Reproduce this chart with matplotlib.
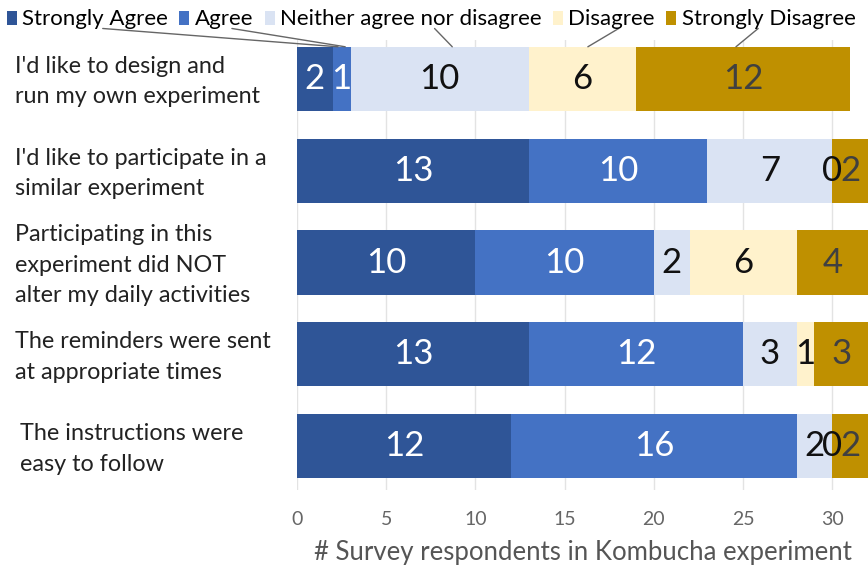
import numpy as np
import matplotlib
matplotlib.use('Agg')
import matplotlib.pyplot as plt
from matplotlib.transforms import blended_transform_factory

plt.rcParams['font.family'] = ['Lato', 'DejaVu Sans']

# Réponses au questionnaire (nombre de répondants par niveau d'accord)
questions = ["I'd like to design and\nrun my own experiment",
             "I'd like to participate in a\nsimilar experiment",
             "Participating in this\nexperiment did NOT\nalter my daily activities",
             "The reminders were sent\nat appropriate times",
             "The instructions were\neasy to follow"]
levels = ['Strongly Agree', 'Agree', 'Neither agree nor disagree', 'Disagree', 'Strongly Disagree']
strongly_agree = [2, 13, 10, 13, 12]
agree = [1, 10, 10, 12, 16]
neither = [10, 7, 2, 3, 2]
disagree = [6, 0, 6, 1, 0]
strongly_disagree = [12, 2, 4, 3, 2]

colors = ['#2F5597', '#4472C4', '#DAE3F3', '#FFF2CC', '#BF9000']
text_colors = ['white', 'white', '#111111', '#111111', '#404040']

fig = plt.figure(figsize=(8.68, 5.73), dpi=100)
ax = fig.add_axes([0.3422, 0.1449, 0.6578, 0.7853])

series = [strongly_agree, agree, neither, disagree, strongly_disagree]
y = np.arange(len(questions))
left = np.zeros(len(questions))
handles = []
for vals, col, tcol, lab in zip(series, colors, text_colors, levels):
    vals = np.array(vals)
    b = ax.barh(y, vals, left=left, height=0.70, color=col, label=lab, zorder=2)
    handles.append(b)
    # Valeurs au centre de chaque segment
    for yi, l, v in zip(y, left, vals):
        ax.text(l + v / 2, yi, str(v), ha='center', va='center',
                fontsize=25, color=tcol, zorder=3)
    left = left + vals

ax.set_xlim(0, 32)
ax.set_ylim(4.478, -0.424)
ax.set_xticks(range(0, 31, 5))
ax.set_yticks([])
ax.grid(axis='x', color='#e3e3e3', linewidth=1, zorder=0)
ax.tick_params(axis='x', length=0, pad=15, labelsize=14, labelcolor='#666666')
for s in ax.spines.values():
    s.set_visible(False)
ax.set_xlabel('# Survey respondents in Kombucha experiment', fontsize=18.5,
              color='#555555', labelpad=9)

# Libellés des questions à gauche
trans = blended_transform_factory(fig.transFigure, ax.transData)
for i, q in enumerate(questions):
    xq = 0.023 if i == 4 else 0.0173
    ax.text(xq, y[i] + 0.03, q, transform=trans, ha='left', va='center',
            fontsize=16.8, color='#222222', linespacing=1.55)

# Légende en haut
leg = fig.legend(handles=handles, labels=levels, loc='center left', ncol=5,
                 bbox_to_anchor=(0.008, 0.966), frameon=False, fontsize=16,
                 handlelength=0.45, handleheight=0.6, handletextpad=0.25,
                 columnspacing=0.5, borderaxespad=0, borderpad=0)

# Traits reliant la légende à la première barre
fig.canvas.draw()
renderer = fig.canvas.get_renderer()
ends_x = [2.3, 2.7, 8.7, 16.3, 24.6]
fracs = [0.55, 0.63, 0.59, 0.58, 0.44]
inv = fig.transFigure.inverted()
for t, ex, fr in zip(leg.get_texts(), ends_x, fracs):
    bb = t.get_window_extent(renderer)
    sx, sy = inv.transform((bb.x0 + fr * bb.width, bb.y0 + 1))
    ax.annotate('', xy=(ex, -0.35), xycoords='data',
                xytext=(sx, sy), textcoords='figure fraction',
                arrowprops=dict(arrowstyle='-', color='#666666', lw=1,
                                shrinkA=0, shrinkB=0),
                annotation_clip=False)

fig.savefig('out.png', dpi=100)
